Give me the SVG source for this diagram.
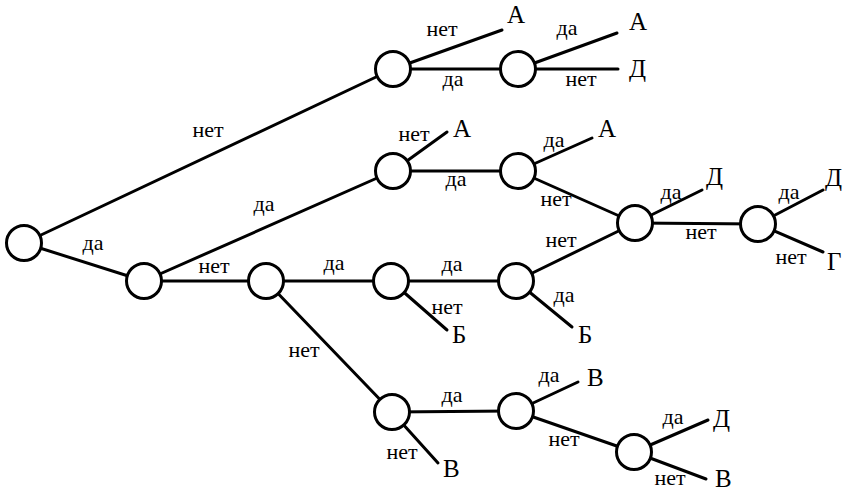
<svg xmlns="http://www.w3.org/2000/svg" width="849" height="492" viewBox="0 0 849 492">
  <style>
    .edge { stroke: #000; stroke-width: 3; fill: none; stroke-linecap: round; }
    .node { fill: #fff; stroke: #000; stroke-width: 3; }
    .lbl { font-family: "Liberation Serif", "Times New Roman", serif; font-size: 22px; fill: #000; text-anchor: middle; }
    .leaf { font-family: "Liberation Serif", "Times New Roman", serif; font-size: 25px; fill: #000; }
  </style>
  <rect width="849" height="492" fill="#fff"/>

  <!-- connectors: drawn centre to centre, node discs cover the inner ends -->
  <g id="connectors">
    <line class="edge" x1="24" y1="243" x2="393" y2="69"/>
    <line class="edge" x1="24" y1="243" x2="144" y2="281"/>
    <line class="edge" x1="144" y1="281" x2="393" y2="171"/>
    <line class="edge" x1="144" y1="281" x2="266" y2="281"/>
    <line class="edge" x1="266" y1="281" x2="391" y2="281"/>
    <line class="edge" x1="266" y1="281" x2="392" y2="412"/>
    <!-- top branch -->
    <line class="edge" x1="393" y1="69" x2="502" y2="30"/>
    <line class="edge" x1="393" y1="69" x2="518" y2="69"/>
    <line class="edge" x1="518" y1="69" x2="617" y2="33"/>
    <line class="edge" x1="518" y1="69" x2="618" y2="69"/>
    <!-- second branch -->
    <line class="edge" x1="393" y1="171" x2="447" y2="132"/>
    <line class="edge" x1="393" y1="171" x2="518" y2="171"/>
    <line class="edge" x1="518" y1="171" x2="592" y2="138"/>
    <line class="edge" x1="518" y1="171" x2="635" y2="223"/>
    <line class="edge" x1="635" y1="223" x2="702" y2="190"/>
    <line class="edge" x1="635" y1="223" x2="758" y2="224"/>
    <line class="edge" x1="758" y1="224" x2="823" y2="190"/>
    <line class="edge" x1="758" y1="224" x2="823" y2="252"/>
    <!-- third branch -->
    <line class="edge" x1="391" y1="281" x2="516" y2="281"/>
    <line class="edge" x1="391" y1="281" x2="447" y2="330"/>
    <line class="edge" x1="516" y1="281" x2="635" y2="223"/>
    <line class="edge" x1="516" y1="281" x2="572" y2="327"/>
    <!-- bottom branch -->
    <line class="edge" x1="392" y1="412" x2="516" y2="411"/>
    <line class="edge" x1="392" y1="412" x2="438" y2="463"/>
    <line class="edge" x1="516" y1="411" x2="578" y2="382"/>
    <line class="edge" x1="516" y1="411" x2="634" y2="452"/>
    <line class="edge" x1="634" y1="452" x2="708" y2="420"/>
    <line class="edge" x1="634" y1="452" x2="706" y2="479"/>
  </g>

  <!-- edge labels -->
  <g id="edge-labels">
    <text class="lbl" x="208" y="137">нет</text>
    <text class="lbl" x="93" y="250">да</text>
    <text class="lbl" x="264" y="211">да</text>
    <text class="lbl" x="214" y="273">нет</text>
    <text class="lbl" x="334" y="270">да</text>
    <text class="lbl" x="304" y="357">нет</text>
    <text class="lbl" x="442" y="36">нет</text>
    <text class="lbl" x="453" y="86">да</text>
    <text class="lbl" x="567" y="35">да</text>
    <text class="lbl" x="581" y="86">нет</text>
    <text class="lbl" x="414" y="141">нет</text>
    <text class="lbl" x="456" y="186">да</text>
    <text class="lbl" x="554" y="147">да</text>
    <text class="lbl" x="556" y="206">нет</text>
    <text class="lbl" x="671" y="199">да</text>
    <text class="lbl" x="701" y="239">нет</text>
    <text class="lbl" x="789" y="199">да</text>
    <text class="lbl" x="791" y="264">нет</text>
    <text class="lbl" x="452" y="271">да</text>
    <text class="lbl" x="447" y="314">нет</text>
    <text class="lbl" x="561" y="247">нет</text>
    <text class="lbl" x="564" y="302">да</text>
    <text class="lbl" x="452" y="402">да</text>
    <text class="lbl" x="402" y="459">нет</text>
    <text class="lbl" x="549" y="382">да</text>
    <text class="lbl" x="564" y="446">нет</text>
    <text class="lbl" x="673" y="424">да</text>
    <text class="lbl" x="670" y="485">нет</text>
  </g>

  <!-- decision nodes -->
  <g id="n0"><circle class="node" cx="24" cy="243" r="17.5"/></g>
  <g id="n1"><circle class="node" cx="144" cy="281" r="17.5"/></g>
  <g id="n2"><circle class="node" cx="266" cy="281" r="17.5"/></g>
  <g id="n3"><circle class="node" cx="393" cy="69" r="17.5"/></g>
  <g id="n4"><circle class="node" cx="393" cy="171" r="17.5"/></g>
  <g id="n5"><circle class="node" cx="391" cy="281" r="17.5"/></g>
  <g id="n6"><circle class="node" cx="392" cy="412" r="17.5"/></g>
  <g id="n7"><circle class="node" cx="518" cy="69" r="17.5"/></g>
  <g id="n8"><circle class="node" cx="518" cy="171" r="17.5"/></g>
  <g id="n9"><circle class="node" cx="516" cy="281" r="17.5"/></g>
  <g id="n10"><circle class="node" cx="516" cy="411" r="17.5"/></g>
  <g id="n11"><circle class="node" cx="635" cy="223" r="17.5"/></g>
  <g id="n12"><circle class="node" cx="758" cy="224" r="17.5"/></g>
  <g id="n13"><circle class="node" cx="634" cy="452" r="17.5"/></g>

  <!-- outcomes -->
  <g id="leaf-a1"><text class="leaf" x="507" y="23">А</text></g>
  <g id="leaf-a2"><text class="leaf" x="629" y="30">А</text></g>
  <g id="leaf-d1"><text class="leaf" x="629" y="77">Д</text></g>
  <g id="leaf-a3"><text class="leaf" x="453" y="137">А</text></g>
  <g id="leaf-a4"><text class="leaf" x="598" y="137">А</text></g>
  <g id="leaf-d2"><text class="leaf" x="706" y="185">Д</text></g>
  <g id="leaf-d3"><text class="leaf" x="825" y="186">Д</text></g>
  <g id="leaf-g"><text class="leaf" x="827" y="270">Г</text></g>
  <g id="leaf-b1"><text class="leaf" x="452" y="343">Б</text></g>
  <g id="leaf-b2"><text class="leaf" x="578" y="343">Б</text></g>
  <g id="leaf-v1"><text class="leaf" x="443" y="477">В</text></g>
  <g id="leaf-v2"><text class="leaf" x="587" y="386">В</text></g>
  <g id="leaf-d4"><text class="leaf" x="713" y="427">Д</text></g>
  <g id="leaf-v3"><text class="leaf" x="715" y="487">В</text></g>
</svg>
